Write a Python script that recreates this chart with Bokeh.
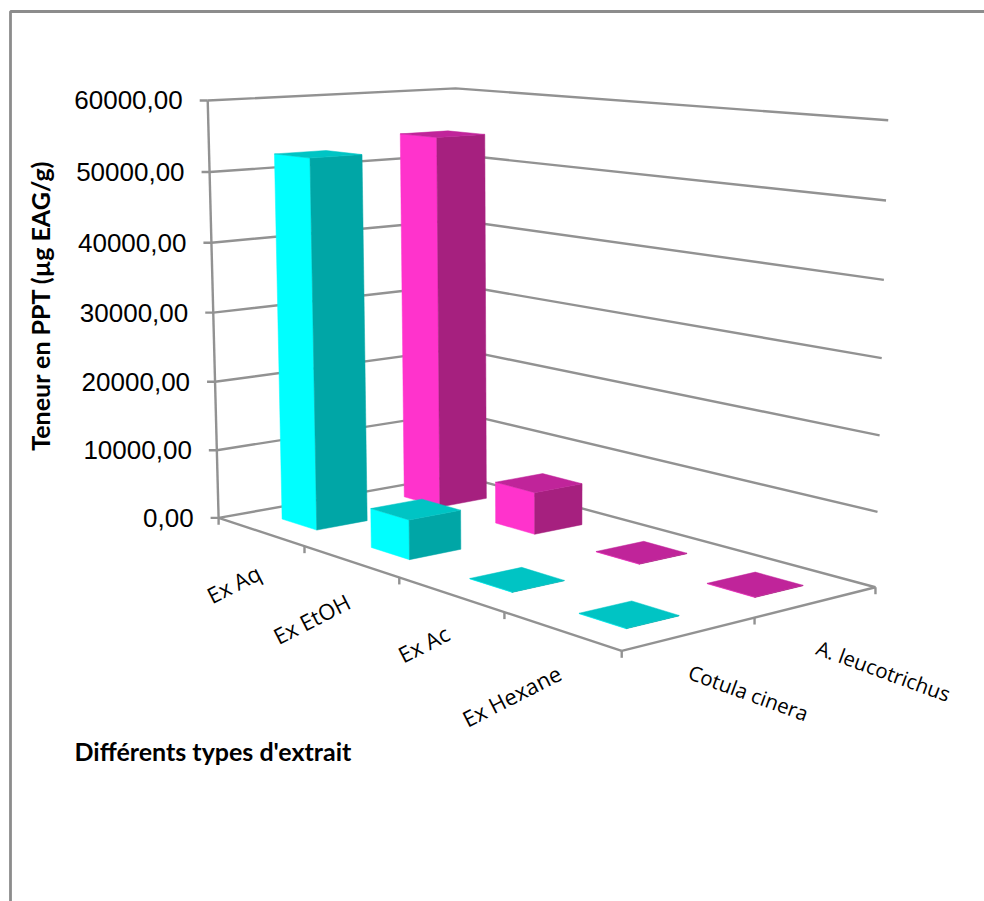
import numpy as np
from bokeh.core.properties import value
from bokeh.embed import file_html
from bokeh.models import Range1d
from bokeh.plotting import figure
from bokeh.resources import INLINE

# Chart data
categories = ["Ex Aq", "Ex EtOH", "Ex Ac", "Ex Hexane"]
series_names = ["Cotula cinera", "A. leucotrichus"]
cotula_values = [52600, 5500, 60, 60]
leucotrichus_values = [54300, 6000, 60, 60]
z_ticks = [0, 10000, 20000, 30000, 40000, 50000, 60000]
z_labels = ["0,00", "10000,00", "20000,00", "30000,00", "40000,00", "50000,00", "60000,00"]
z_max = 60000

# Camera calibration: plot-box positions (category, series, value) and their page pixels
box_points = [
    (0, 0, 0), (1, 0, 0), (2, 0, 0), (3, 0, 0), (4, 0, 0), (4, 1, 0), (4, 2, 0),
    (0, 0, 30000), (0, 0, 60000), (0, 2, 60000), (4, 2, 60000), (4, 2, 30000),
]
page_points = [
    (218, 517), (304, 546), (399, 577), (504, 612), (621, 650), (754, 617), (875, 587),
    (213, 312), (207, 100), (455, 88), (888, 120), (881, 357),
]


def solve_camera(world, page):
    rows = []
    for (cx, cy, cz), (u, v) in zip(world, page):
        w = [cx, cy, cz / z_max, 1.0]
        rows.append(w + [0, 0, 0, 0] + [-u * k for k in w])
        rows.append([0, 0, 0, 0] + w + [-v * k for k in w])
    return np.linalg.svd(np.array(rows, float))[2][-1].reshape(3, 4)


CAMERA = solve_camera(box_points, page_points)


def project(cx, cy, cz):
    h = CAMERA @ np.array([cx, cy, cz / z_max, 1.0])
    return float(h[0] / h[2]), float(h[1] / h[2])


def segment(a, b):
    pa, pb = project(*a), project(*b)
    return [pa[0], pb[0]], [pa[1], pb[1]]


GREY = "#929292"
FONT = "Lato"

p = figure(width=984, height=901, x_range=Range1d(0, 984), y_range=Range1d(901, 0),
           output_backend="svg", toolbar_location=None, min_border=0)
p.axis.visible = False
p.grid.visible = False
p.outline_line_color = None

# Chart-area frame, open on the window's right and bottom edges
p.line([10, 10, 984], [901, 11, 11], line_color="#8c8c8c", line_width=2.8)

# Wall gridlines, floor edges, value axis and tick marks
n_cat, n_ser = len(categories), len(series_names)
grid_xs, grid_ys = [], []
for z in z_ticks:
    pts = [project(0, 0, z), project(0, n_ser, z), project(n_cat, n_ser, z)]
    grid_xs.append([q[0] for q in pts])
    grid_ys.append([q[1] for q in pts])
    grid_xs.append([project(0, 0, z)[0] - 8, project(0, 0, z)[0]])
    grid_ys.append([project(0, 0, z)[1], project(0, 0, z)[1]])
for a, b in [((0, 0, 0), (0, 0, z_max)), ((0, 0, 0), (n_cat, 0, 0)), ((n_cat, 0, 0), (n_cat, n_ser, 0))]:
    sx, sy = segment(a, b)
    grid_xs.append(sx)
    grid_ys.append(sy)
for i in range(n_cat + 1):
    x0, y0 = project(i, 0, 0)
    grid_xs.append([x0, x0])
    grid_ys.append([y0, y0 + 7])
for j in range(1, n_ser + 1):
    x0, y0 = project(n_cat, j, 0)
    grid_xs.append([x0, x0])
    grid_ys.append([y0, y0 + 7])
p.multi_line(grid_xs, grid_ys, line_color=GREY, line_width=2.4)

# Bars, far row first so the near row overlaps it
GAP = 0.3
palettes = {
    0: ("#00ffff", "#00a6a6", "#00c4c4"),
    1: ("#ff33cc", "#a6207f", "#c0249a"),
}
rows = [(1, leucotrichus_values), (0, cotula_values)]
for j, vals in rows:
    front, side, top = palettes[j]
    for i, v in enumerate(vals):
        x0, x1 = i + GAP, i + 1 - GAP
        y0, y1 = j + GAP, j + 1 - GAP
        faces = [
            ([(x0, y0, 0), (x1, y0, 0), (x1, y0, v), (x0, y0, v)], front),
            ([(x1, y0, 0), (x1, y1, 0), (x1, y1, v), (x1, y0, v)], side),
            ([(x0, y0, v), (x1, y0, v), (x1, y1, v), (x0, y1, v)], top),
        ]
        xs, ys, colors = [], [], []
        for corners, color in faces:
            pts = [project(*c) for c in corners]
            xs.append([q[0] for q in pts])
            ys.append([q[1] for q in pts])
            colors.append(color)
        p.patches(xs, ys, fill_color=colors, line_color=colors, line_width=0.5)

# Value-axis labels
label_x = [project(0, 0, z)[0] - 25 for z in z_ticks]
label_y = [project(0, 0, z)[1] for z in z_ticks]
p.text(label_x, label_y, text=z_labels, text_align="right", text_baseline="middle",
       text_font=value("Liberation Sans"), text_font_size="26px", text_color="#000000")

# Category and series labels, rotated to follow the floor edges
cat_x = [233, 311, 423, 511]
cat_y = [583, 618, 643, 695]
p.text(cat_x, cat_y, text=categories, angle=np.radians(27), angle_units="rad",
       text_align="center", text_baseline="middle", text_font=value("Open Sans"),
       text_font_size="22px", text_color="#000000")
ser_x = [748, 883]
ser_y = [692, 670]
p.text(ser_x, ser_y, text=series_names, angle=np.radians(-20), angle_units="rad",
       text_align="center", text_baseline="middle", text_font=value("Open Sans"),
       text_font_size="20.5px", text_color="#000000")

# Axis titles
p.text([39], [305], text=["Teneur en PPT (µg EAG/g)"], angle=np.pi / 2, angle_units="rad",
       text_align="center", text_baseline="middle", text_font=value(FONT),
       text_font_style="bold", text_font_size="25px", text_color="#000000")
p.text([74], [750], text=["Différents types d'extrait"], text_align="left", text_baseline="middle",
       text_font=value(FONT), text_font_style="bold", text_font_size="25px", text_color="#000000")

open("out.html", "w").write(file_html(p, INLINE))
